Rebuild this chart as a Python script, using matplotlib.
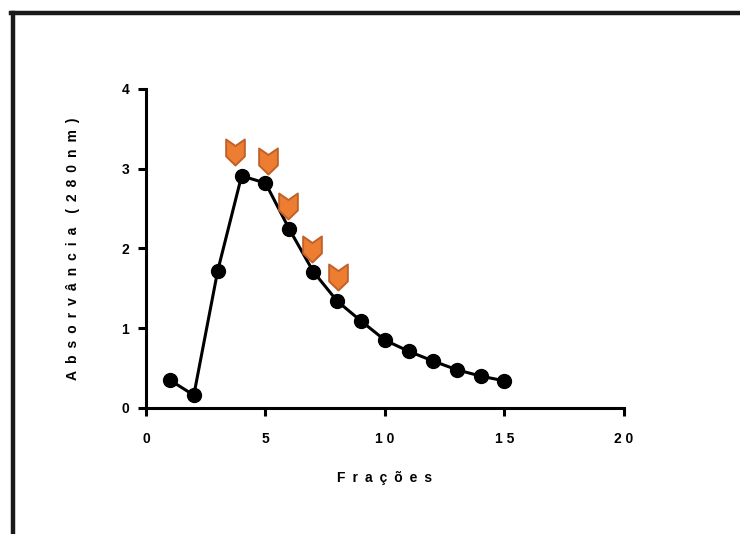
import matplotlib.pyplot as plt
from matplotlib.lines import Line2D
from matplotlib.path import Path

plt.rcParams['font.family'] = ['Liberation Sans', 'DejaVu Sans']
plt.rcParams['font.weight'] = 'bold'

fractions = [1, 2, 3, 4, 5, 6, 7, 8, 9, 10, 11, 12, 13, 14, 15]
absorbance = [0.35, 0.16, 1.72, 2.91, 2.82, 2.24, 1.71, 1.34, 1.09, 0.85, 0.71, 0.59, 0.48, 0.40, 0.34]

# selected fractions marked with orange arrows
arrow_x = [3.72, 5.10, 5.94, 6.95, 8.03]
arrow_y = [3.21, 3.10, 2.53, 1.99, 1.64]

xticks = [0, 5, 10, 15, 20]
xtick_labels = ['0', '5', '1 0', '1 5', '2 0']
yticks = [0, 1, 2, 3, 4]

sp = '\u2002'
xlabel = sp.join('Frações')
ylabel = sp.join('Absorvância') + sp * 2 + sp.join('(280nm)')

chevron = Path([(-0.72, 1), (0, 0.5), (0.72, 1), (0.72, -0.3), (0, -1), (-0.72, -0.3), (-0.72, 1)],
               [Path.MOVETO] + [Path.LINETO] * 5 + [Path.CLOSEPOLY])

fig = plt.figure(figsize=(7.4, 5.34), dpi=100)
ax = fig.add_axes([0.1973, 0.236, 0.6459, 0.5974])

ax.plot(fractions, absorbance, color='black', linewidth=2.2, marker='o',
        markersize=10, clip_on=False, zorder=3)
ax.scatter(arrow_x, arrow_y, marker=chevron, s=350, color='#ED7D31',
           edgecolors='#C0612A', linewidths=1.4, zorder=4, clip_on=False)

ax.set_xlim(0, 20)
ax.set_ylim(0, 4)
ax.set_xticks(xticks)
ax.set_xticklabels(xtick_labels)
ax.set_yticks(yticks)

for s in ['top', 'right']:
    ax.spines[s].set_visible(False)
for s in ['left', 'bottom']:
    ax.spines[s].set_linewidth(2.2)

ax.tick_params(axis='both', direction='out', length=6, width=2.2, labelsize=10)
ax.tick_params(axis='x', pad=11)
ax.tick_params(axis='y', pad=6)

ax.set_xlabel(xlabel, fontsize=10, fontweight='bold', labelpad=18)
ax.set_ylabel(ylabel, fontsize=10, fontweight='bold', labelpad=30)

# frame lines at the top and left of the figure
fig.add_artist(Line2D([13 / 740, 13 / 740], [0, 1 - 13 / 534], transform=fig.transFigure,
                      color='#1a1a1a', linewidth=3.2))
fig.add_artist(Line2D([11 / 740, 1], [1 - 13 / 534, 1 - 13 / 534], transform=fig.transFigure,
                      color='#1a1a1a', linewidth=3.2))

fig.savefig('out.png', dpi=100)
